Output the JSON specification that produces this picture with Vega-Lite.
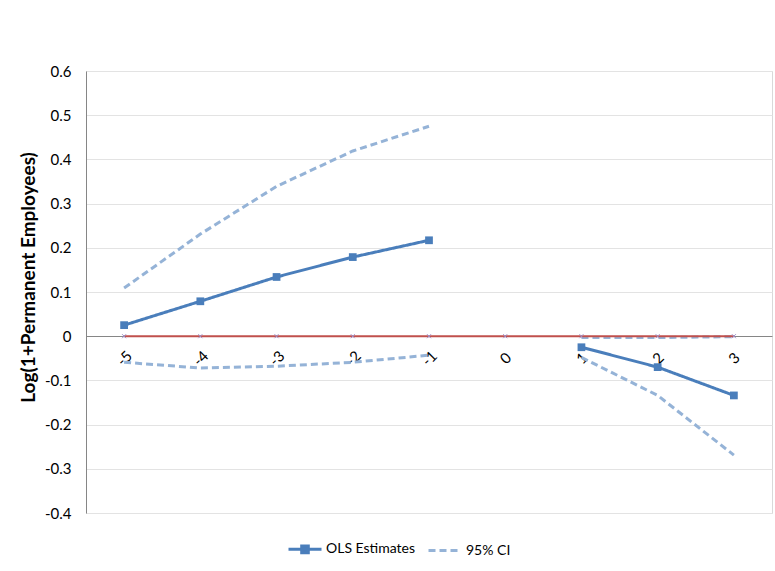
{
  "$schema": "https://vega.github.io/schema/vega-lite/v6.json",
  "autosize": "none",
  "width": 686,
  "height": 442,
  "padding": {"left": 86, "top": 71, "right": 3, "bottom": 58},
  "background": "white",
  "config": {
    "font": "Lato",
    "view": {"stroke": "#D9D9D9", "strokeWidth": 1}
  },
  "datasets": {
    "est": [
      {"t": "-5", "series": "OLS Estimates", "part": "ols-pre", "value": 0.025},
      {"t": "-4", "series": "OLS Estimates", "part": "ols-pre", "value": 0.079},
      {"t": "-3", "series": "OLS Estimates", "part": "ols-pre", "value": 0.134},
      {"t": "-2", "series": "OLS Estimates", "part": "ols-pre", "value": 0.179},
      {"t": "-1", "series": "OLS Estimates", "part": "ols-pre", "value": 0.217},
      {"t": "1", "series": "OLS Estimates", "part": "ols-post", "value": -0.025},
      {"t": "2", "series": "OLS Estimates", "part": "ols-post", "value": -0.07},
      {"t": "3", "series": "OLS Estimates", "part": "ols-post", "value": -0.134},
      {"t": "-5", "series": "95% CI", "part": "hi-pre", "value": 0.109},
      {"t": "-4", "series": "95% CI", "part": "hi-pre", "value": 0.231},
      {"t": "-3", "series": "95% CI", "part": "hi-pre", "value": 0.339},
      {"t": "-2", "series": "95% CI", "part": "hi-pre", "value": 0.419},
      {"t": "-1", "series": "95% CI", "part": "hi-pre", "value": 0.475},
      {"t": "1", "series": "95% CI", "part": "hi-post", "value": -0.003},
      {"t": "2", "series": "95% CI", "part": "hi-post", "value": -0.003},
      {"t": "3", "series": "95% CI", "part": "hi-post", "value": -0.001},
      {"t": "-5", "series": "95% CI", "part": "lo-pre", "value": -0.059},
      {"t": "-4", "series": "95% CI", "part": "lo-pre", "value": -0.072},
      {"t": "-3", "series": "95% CI", "part": "lo-pre", "value": -0.068},
      {"t": "-2", "series": "95% CI", "part": "lo-pre", "value": -0.059},
      {"t": "-1", "series": "95% CI", "part": "lo-pre", "value": -0.043},
      {"t": "1", "series": "95% CI", "part": "lo-post", "value": -0.048},
      {"t": "2", "series": "95% CI", "part": "lo-post", "value": -0.134},
      {"t": "3", "series": "95% CI", "part": "lo-post", "value": -0.269}
    ],
    "zero": [
      {"t": "-5", "value": 0},
      {"t": "-4", "value": 0},
      {"t": "-3", "value": 0},
      {"t": "-2", "value": 0},
      {"t": "-1", "value": 0},
      {"t": "0", "value": 0},
      {"t": "1", "value": 0},
      {"t": "2", "value": 0},
      {"t": "3", "value": 0}
    ]
  },
  "encoding": {
    "x": {
      "field": "t",
      "type": "ordinal",
      "sort": ["-5", "-4", "-3", "-2", "-1", "0", "1", "2", "3"],
      "scale": {"type": "point", "padding": 0.5},
      "axis": {
        "title": null,
        "offset": -177,
        "domainColor": "#868686",
        "domainWidth": 1,
        "ticks": false,
        "grid": false,
        "labelAngle": -45,
        "labelAlign": "center",
        "labelBaseline": "middle",
        "labelPadding": 22,
        "labelFontSize": 15,
        "labelColor": "#000000",
        "zindex": 0
      }
    },
    "y": {
      "field": "value",
      "type": "quantitative",
      "scale": {"domain": [-0.4, 0.6], "nice": false, "zero": false},
      "axis": {
        "title": "Log(1+Permanent Employees)",
        "titleFontSize": 19,
        "titleFontWeight": "bold",
        "titleColor": "#000000",
        "titlePadding": 6,
        "titleY": 206,
        "values": [-0.4, -0.3, -0.2, -0.1, 0, 0.1, 0.2, 0.3, 0.4, 0.5, 0.6],
        "labelExpr": "toString(datum.value)",
        "labelFontSize": 15,
        "labelColor": "#000000",
        "labelPadding": 15,
        "ticks": false,
        "domainColor": "#868686",
        "gridColor": "#E3E3E3",
        "gridWidth": 1
      }
    }
  },
  "layer": [
    {
      "data": {"name": "est"},
      "transform": [{"filter": "datum.series == '95% CI'"}],
      "mark": {"type": "line", "strokeWidth": 3},
      "encoding": {
        "detail": {"field": "part"},
        "color": {
          "field": "series",
          "type": "nominal",
          "scale": {"domain": ["OLS Estimates", "95% CI"], "range": ["#4A7EBB", "#95B3D7"]},
          "legend": {
            "title": null,
            "orient": "none",
            "direction": "horizontal",
            "legendX": 201,
            "legendY": 460,
            "symbolType": "stroke",
            "symbolSize": 1089,
            "symbolStrokeWidth": 3,
            "labelFontSize": 14,
            "labelColor": "#000000",
            "labelOffset": 3,
            "columnPadding": 6,
            "encode": {
              "symbols": {
                "update": {
                  "shape": {"signal": "datum.value == 'OLS Estimates' ? 'M-1,0H1M-0.2,-0.2H0.2V0.2H-0.2Z' : 'stroke'"},
                  "fill": {"signal": "datum.value == 'OLS Estimates' ? '#4A7EBB' : 'transparent'"}
                }
              }
            }
          }
        },
        "strokeDash": {
          "field": "series",
          "type": "nominal",
          "scale": {"domain": ["OLS Estimates", "95% CI"], "range": [[1, 0], [7, 4]]}
        }
      }
    },
    {
      "data": {"name": "zero"},
      "mark": {"type": "line", "color": "#C0504D", "strokeWidth": 2},
      "encoding": {}
    },
    {
      "data": {"name": "zero"},
      "mark": {
        "type": "point",
        "shape": "M-1,-1L1,1M-1,1L1,-1",
        "size": 16,
        "stroke": "#9E8FC9",
        "strokeWidth": 1,
        "filled": false,
        "opacity": 1
      },
      "encoding": {}
    },
    {
      "data": {"name": "est"},
      "transform": [{"filter": "datum.series == 'OLS Estimates'"}],
      "mark": {"type": "line", "strokeWidth": 3},
      "encoding": {
        "detail": {"field": "part"},
        "color": {
          "field": "series",
          "type": "nominal",
          "scale": {"domain": ["OLS Estimates", "95% CI"], "range": ["#4A7EBB", "#95B3D7"]}
        },
        "strokeDash": {
          "field": "series",
          "type": "nominal",
          "scale": {"domain": ["OLS Estimates", "95% CI"], "range": [[1, 0], [7, 4]]}
        }
      }
    },
    {
      "data": {"name": "est"},
      "transform": [{"filter": "datum.series == 'OLS Estimates'"}],
      "mark": {"type": "point", "shape": "square", "filled": true, "size": 60, "color": "#4A7EBB", "opacity": 1},
      "encoding": {}
    }
  ]
}
